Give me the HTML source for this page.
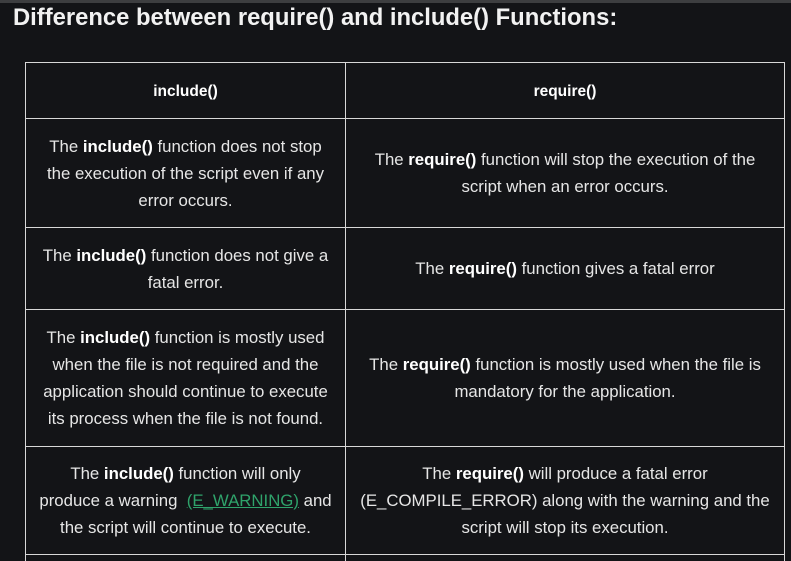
<!DOCTYPE html>
<html><head><meta charset="utf-8"><style>
html,body{margin:0;padding:0;background:#131417;width:791px;height:561px;overflow:hidden}
body{font-family:"Liberation Sans",sans-serif;color:#e6e6e6;position:relative}
.bar{position:absolute;left:0;top:0;width:791px;height:3px;background:#3d3e40}
h1{position:absolute;left:13px;top:4px;margin:0;font-size:23.8px;font-weight:bold;color:#f2f2f2;white-space:nowrap}
.c{position:absolute;border:1px solid #d8d8d8;box-sizing:border-box;display:flex;align-items:center;justify-content:center;text-align:center;font-size:16.8px;line-height:27px;padding:0 2px;overflow:hidden;white-space:nowrap}
.c>div{width:100%}
b{color:#fff}
a{color:#2fa36b;text-decoration:underline}
</style></head><body>
<div class="bar"></div>
<h1>Difference between require() and include() Functions:</h1>
<div class="c" style="left:25px;top:62px;width:321px;height:57px"><div><b style="font-size:15.5px">include()</b></div></div>
<div class="c" style="left:345px;top:62px;width:440px;height:57px"><div><b style="font-size:15.5px">require()</b></div></div>

<div class="c" style="left:25px;top:118px;width:321px;height:110px"><div>The <b>include()</b> function does not stop<br>the execution of the script even if any<br>error occurs.</div></div>
<div class="c" style="left:345px;top:118px;width:440px;height:110px"><div>The <b>require()</b> function will stop the execution of the<br>script when an error occurs.</div></div>

<div class="c" style="left:25px;top:227px;width:321px;height:83px"><div>The <b>include()</b> function does not give a<br>fatal error.</div></div>
<div class="c" style="left:345px;top:227px;width:440px;height:83px"><div>The <b>require()</b> function gives a fatal error</div></div>

<div class="c" style="left:25px;top:309px;width:321px;height:138px"><div>The <b>include()</b> function is mostly used<br>when the file is not required and the<br>application should continue to execute<br>its process when the file is not found.</div></div>
<div class="c" style="left:345px;top:309px;width:440px;height:138px"><div>The <b>require()</b> function is mostly used when the file is<br>mandatory for the application.</div></div>

<div class="c" style="left:25px;top:446px;width:321px;height:109px"><div>The <b>include()</b> function will only<br>produce a warning&nbsp; <a>(E_WARNING)</a> and<br>the script will continue to execute.</div></div>
<div class="c" style="left:345px;top:446px;width:440px;height:109px"><div>The <b>require()</b> will produce a fatal error<br>(E_COMPILE_ERROR) along with the warning and the<br>script will stop its execution.</div></div>

<div class="c" style="left:25px;top:554px;width:321px;height:7px;border-bottom:none"></div>
<div class="c" style="left:345px;top:554px;width:440px;height:7px;border-bottom:none"></div>
</body></html>
